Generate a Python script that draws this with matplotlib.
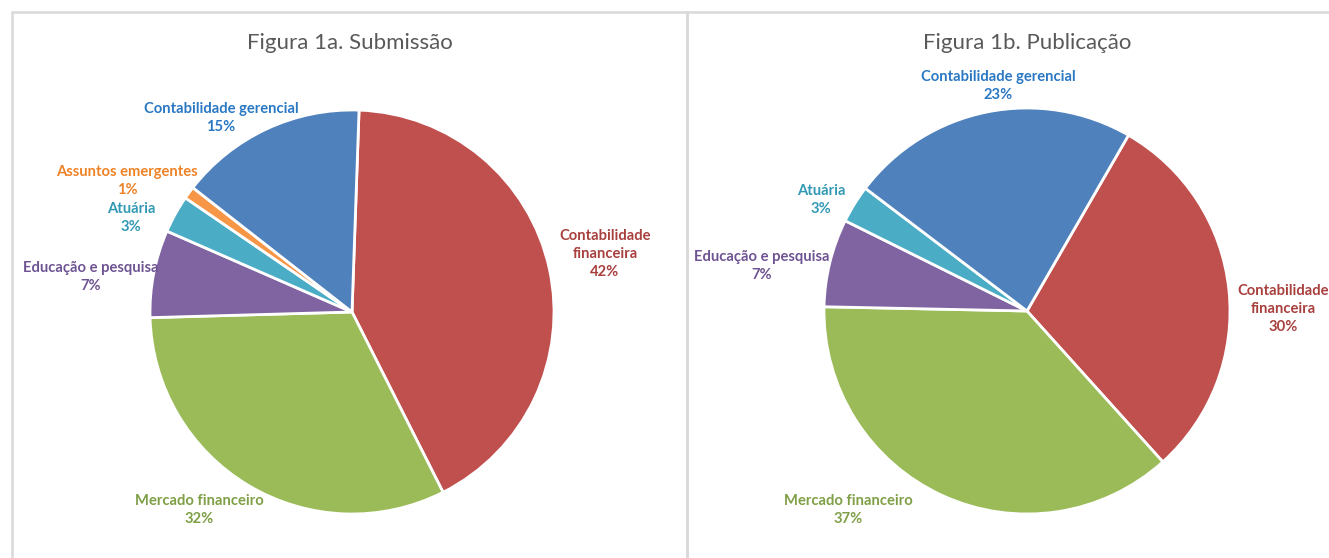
import matplotlib.pyplot as plt
from matplotlib.patches import Rectangle

# --- dados ---
cats_a = ["Contabilidade financeira", "Mercado financeiro", "Educação e pesquisa",
          "Atuária", "Assuntos emergentes", "Contabilidade gerencial"]
vals_a = [42, 32, 7, 3, 1, 15]
labels_a = ["Contabilidade\nfinanceira", "Mercado financeiro", "Educação e pesquisa",
            "Atuária", "Assuntos emergentes", "Contabilidade gerencial"]

cats_b = ["Contabilidade financeira", "Mercado financeiro", "Educação e pesquisa",
          "Atuária", "Contabilidade gerencial"]
vals_b = [30, 37, 7, 3, 23]
labels_b = ["Contabilidade\nfinanceira", "Mercado financeiro", "Educação e pesquisa",
            "Atuária", "Contabilidade gerencial"]

# cores (fatia, rótulo)
cores = {
    "Contabilidade financeira": ("#C0504D", "#A8403E"),
    "Mercado financeiro": ("#9BBB59", "#7E9F45"),
    "Educação e pesquisa": ("#8064A2", "#6E5492"),
    "Atuária": ("#4BACC6", "#3399B5"),
    "Assuntos emergentes": ("#F79646", "#EE8226"),
    "Contabilidade gerencial": ("#4F81BD", "#2A78C4"),
}

# posições dos rótulos (pixels da imagem)
pos_a = [(605, 254), (199, 510), (91, 277), (131, 218), (127, 181), (221, 118)]
pos_b = [(1283, 309), (848, 510), (762, 266), (821, 200), (998, 86)]

W, H = 1329, 558
plt.rcParams['font.family'] = ['Lato', 'DejaVu Sans']
fig = plt.figure(figsize=(W / 100, H / 100), dpi=100)
ax = fig.add_axes([0, 0, 1, 1])


def painel(x0, x1, titulo, tx):
    ax.add_patch(Rectangle((x0, -10), x1 - x0, H - 12 + 10, fill=False,
                           edgecolor="#D9D9D9", linewidth=1.8))
    ax.text(tx, H - 43, titulo, ha="center", va="center", fontsize=16, color="#595959")


def pizza(vals, cats, labels, pos, centro, raio, inicio):
    ax.pie(vals, colors=[cores[c][0] for c in cats], center=centro, radius=raio,
           startangle=inicio, counterclock=False, frame=True,
           wedgeprops=dict(edgecolor="white", linewidth=2))
    for v, c, lab, (px, py) in zip(vals, cats, labels, pos):
        ax.text(px, H - py, f"{lab}\n{v}%", ha="center", va="center", fontsize=10.6,
                fontweight="bold", color=cores[c][1], linespacing=1.35)


painel(12, 687, "Figura 1a. Submissão", 350)
painel(687, W + 10, "Figura 1b. Publicação", 1027)

pizza(vals_a, cats_a, labels_a, pos_a, (352, H - 312), 202, 88)
pizza(vals_b, cats_b, labels_b, pos_b, (1027, H - 311), 203, 60)

ax.set_xlim(0, W)
ax.set_ylim(0, H)
ax.set_aspect("equal")
ax.axis("off")

fig.savefig("out.png", dpi=100)
